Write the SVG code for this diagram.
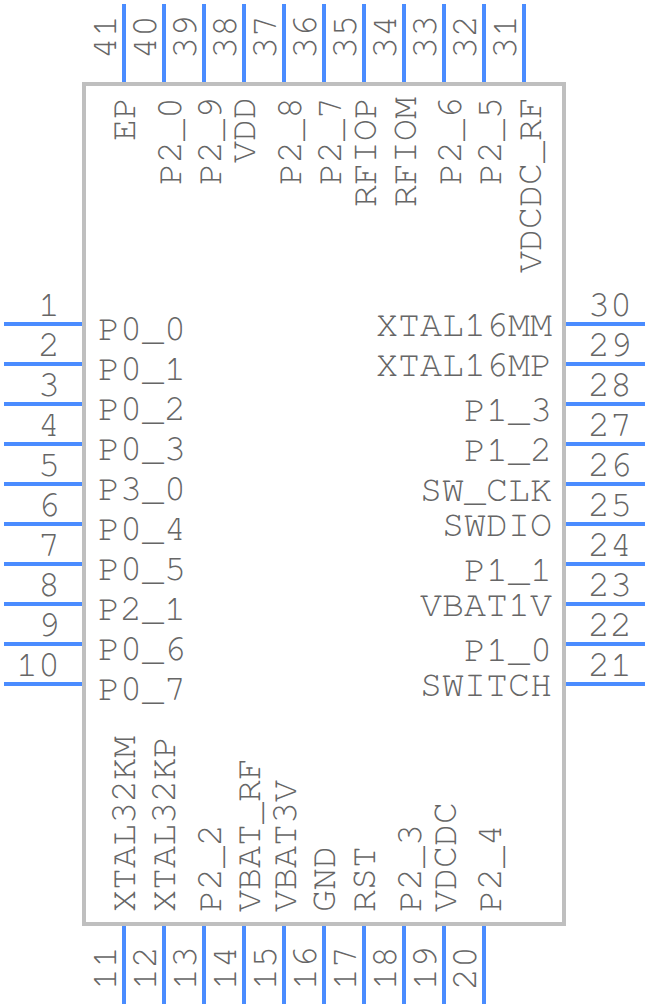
<svg xmlns="http://www.w3.org/2000/svg" width="648" height="1008" viewBox="0 0 648 1008">
<style>
text{font-family:"FreeMono","Liberation Mono",monospace;font-size:36.67px;fill:#666}
.e{text-anchor:end}
.p{stroke:#4a8cff;stroke-width:4;fill:none}
</style>
<rect width="648" height="1008" fill="#fff"/>
<g id="body"><rect x="84" y="84" width="480" height="840" fill="none" stroke="#bfbfbf" stroke-width="4"/></g>
<g id="connectors">
<path class="p" d="M4 324H82M4 364H82M4 404H82M4 444H82M4 484H82M4 524H82M4 564H82M4 604H82M4 644H82M4 684H82"/>
<path class="p" d="M566 324H645M566 364H645M566 404H645M566 444H645M566 484H645M566 524H645M566 564H645M566 604H645M566 644H645M566 684H645"/>
<path class="p" d="M124 4V82M164 4V82M204 4V82M244 4V82M284 4V82M324 4V82M364 4V82M404 4V82M444 4V82M484 4V82M524 4V82"/>
<path class="p" d="M124 926V1004M164 926V1004M204 926V1004M244 926V1004M284 926V1004M324 926V1004M364 926V1004M404 926V1004M444 926V1004M484 926V1004"/>
</g>
<g id="left-pins">
<g id="pin1"><text class="e" x="60" y="316">1</text><text x="98" y="340">P0_0</text></g>
<g id="pin2"><text class="e" x="60" y="356">2</text><text x="98" y="380">P0_1</text></g>
<g id="pin3"><text class="e" x="60" y="396">3</text><text x="98" y="420">P0_2</text></g>
<g id="pin4"><text class="e" x="60" y="436">4</text><text x="98" y="460">P0_3</text></g>
<g id="pin5"><text class="e" x="60" y="476">5</text><text x="98" y="500">P3_0</text></g>
<g id="pin6"><text class="e" x="60" y="516">6</text><text x="98" y="540">P0_4</text></g>
<g id="pin7"><text class="e" x="60" y="556">7</text><text x="98" y="580">P0_5</text></g>
<g id="pin8"><text class="e" x="60" y="596">8</text><text x="98" y="620">P2_1</text></g>
<g id="pin9"><text class="e" x="60" y="636">9</text><text x="98" y="660">P0_6</text></g>
<g id="pin10"><text class="e" x="60" y="676">10</text><text x="98" y="700">P0_7</text></g>
</g>
<g id="right-pins">
<g id="pin30"><text x="588" y="316">30</text><text class="e" x="552" y="336">XTAL16MM</text></g>
<g id="pin29"><text x="588" y="356">29</text><text class="e" x="552" y="376">XTAL16MP</text></g>
<g id="pin28"><text x="588" y="396">28</text><text class="e" x="552" y="421">P1_3</text></g>
<g id="pin27"><text x="588" y="436">27</text><text class="e" x="552" y="461">P1_2</text></g>
<g id="pin26"><text x="588" y="476">26</text><text class="e" x="552" y="501">SW_CLK</text></g>
<g id="pin25"><text x="588" y="516">25</text><text class="e" x="552" y="536">SWDIO</text></g>
<g id="pin24"><text x="588" y="556">24</text><text class="e" x="552" y="581">P1_1</text></g>
<g id="pin23"><text x="588" y="596">23</text><text class="e" x="552" y="616">VBAT1V</text></g>
<g id="pin22"><text x="588" y="636">22</text><text class="e" x="552" y="661">P1_0</text></g>
<g id="pin21"><text x="588" y="676">21</text><text class="e" x="552" y="696">SWITCH</text></g>
</g>
<g id="top-pins">
<g id="pin41"><text transform="translate(116 59) rotate(-90)">41</text><text class="e" transform="translate(135 97) rotate(-90)">EP</text></g>
<g id="pin40"><text transform="translate(156 59) rotate(-90)">40</text></g>
<g id="pin39"><text transform="translate(196 59) rotate(-90)">39</text><text class="e" transform="translate(181 97) rotate(-90)">P2_0</text></g>
<g id="pin38"><text transform="translate(236 59) rotate(-90)">38</text><text class="e" transform="translate(221 97) rotate(-90)">P2_9</text></g>
<g id="pin37"><text transform="translate(276 59) rotate(-90)">37</text><text class="e" transform="translate(255 97) rotate(-90)">VDD</text></g>
<g id="pin36"><text transform="translate(316 59) rotate(-90)">36</text><text class="e" transform="translate(301 97) rotate(-90)">P2_8</text></g>
<g id="pin35"><text transform="translate(356 59) rotate(-90)">35</text><text class="e" transform="translate(341 97) rotate(-90)">P2_7</text></g>
<g id="pin34"><text transform="translate(396 59) rotate(-90)">34</text><text class="e" transform="translate(376 97) rotate(-90)">RFIOP</text></g>
<g id="pin33"><text transform="translate(436 59) rotate(-90)">33</text><text class="e" transform="translate(416 97) rotate(-90)">RFIOM</text></g>
<g id="pin32"><text transform="translate(476 59) rotate(-90)">32</text><text class="e" transform="translate(461 97) rotate(-90)">P2_6</text></g>
<g id="pin31"><text transform="translate(516 59) rotate(-90)">31</text><text class="e" transform="translate(501 97) rotate(-90)">P2_5</text></g>
<g id="pinRF"><text class="e" transform="translate(541 97) rotate(-90)">VDCDC_RF</text></g>
</g>
<g id="bottom-pins">
<g id="pin11"><text transform="translate(116 990) rotate(-90)">11</text><text transform="translate(135 912) rotate(-90)">XTAL32KM</text></g>
<g id="pin12"><text transform="translate(156 990) rotate(-90)">12</text><text transform="translate(175 912) rotate(-90)">XTAL32KP</text></g>
<g id="pin13"><text transform="translate(196 990) rotate(-90)">13</text><text transform="translate(221 912) rotate(-90)">P2_2</text></g>
<g id="pin14"><text transform="translate(236 990) rotate(-90)">14</text><text transform="translate(260 912) rotate(-90)">VBAT_RF</text></g>
<g id="pin15"><text transform="translate(276 990) rotate(-90)">15</text><text transform="translate(296 912) rotate(-90)">VBAT3V</text></g>
<g id="pin16"><text transform="translate(316 990) rotate(-90)">16</text><text transform="translate(335 912) rotate(-90)">GND</text></g>
<g id="pin17"><text transform="translate(356 990) rotate(-90)">17</text><text transform="translate(375 912) rotate(-90)">RST</text></g>
<g id="pin18"><text transform="translate(396 990) rotate(-90)">18</text><text transform="translate(421 912) rotate(-90)">P2_3</text></g>
<g id="pin19"><text transform="translate(436 990) rotate(-90)">19</text><text transform="translate(456 912) rotate(-90)">VDCDC</text></g>
<g id="pin20"><text transform="translate(476 990) rotate(-90)">20</text><text transform="translate(501 912) rotate(-90)">P2_4</text></g>
</g>
</svg>
